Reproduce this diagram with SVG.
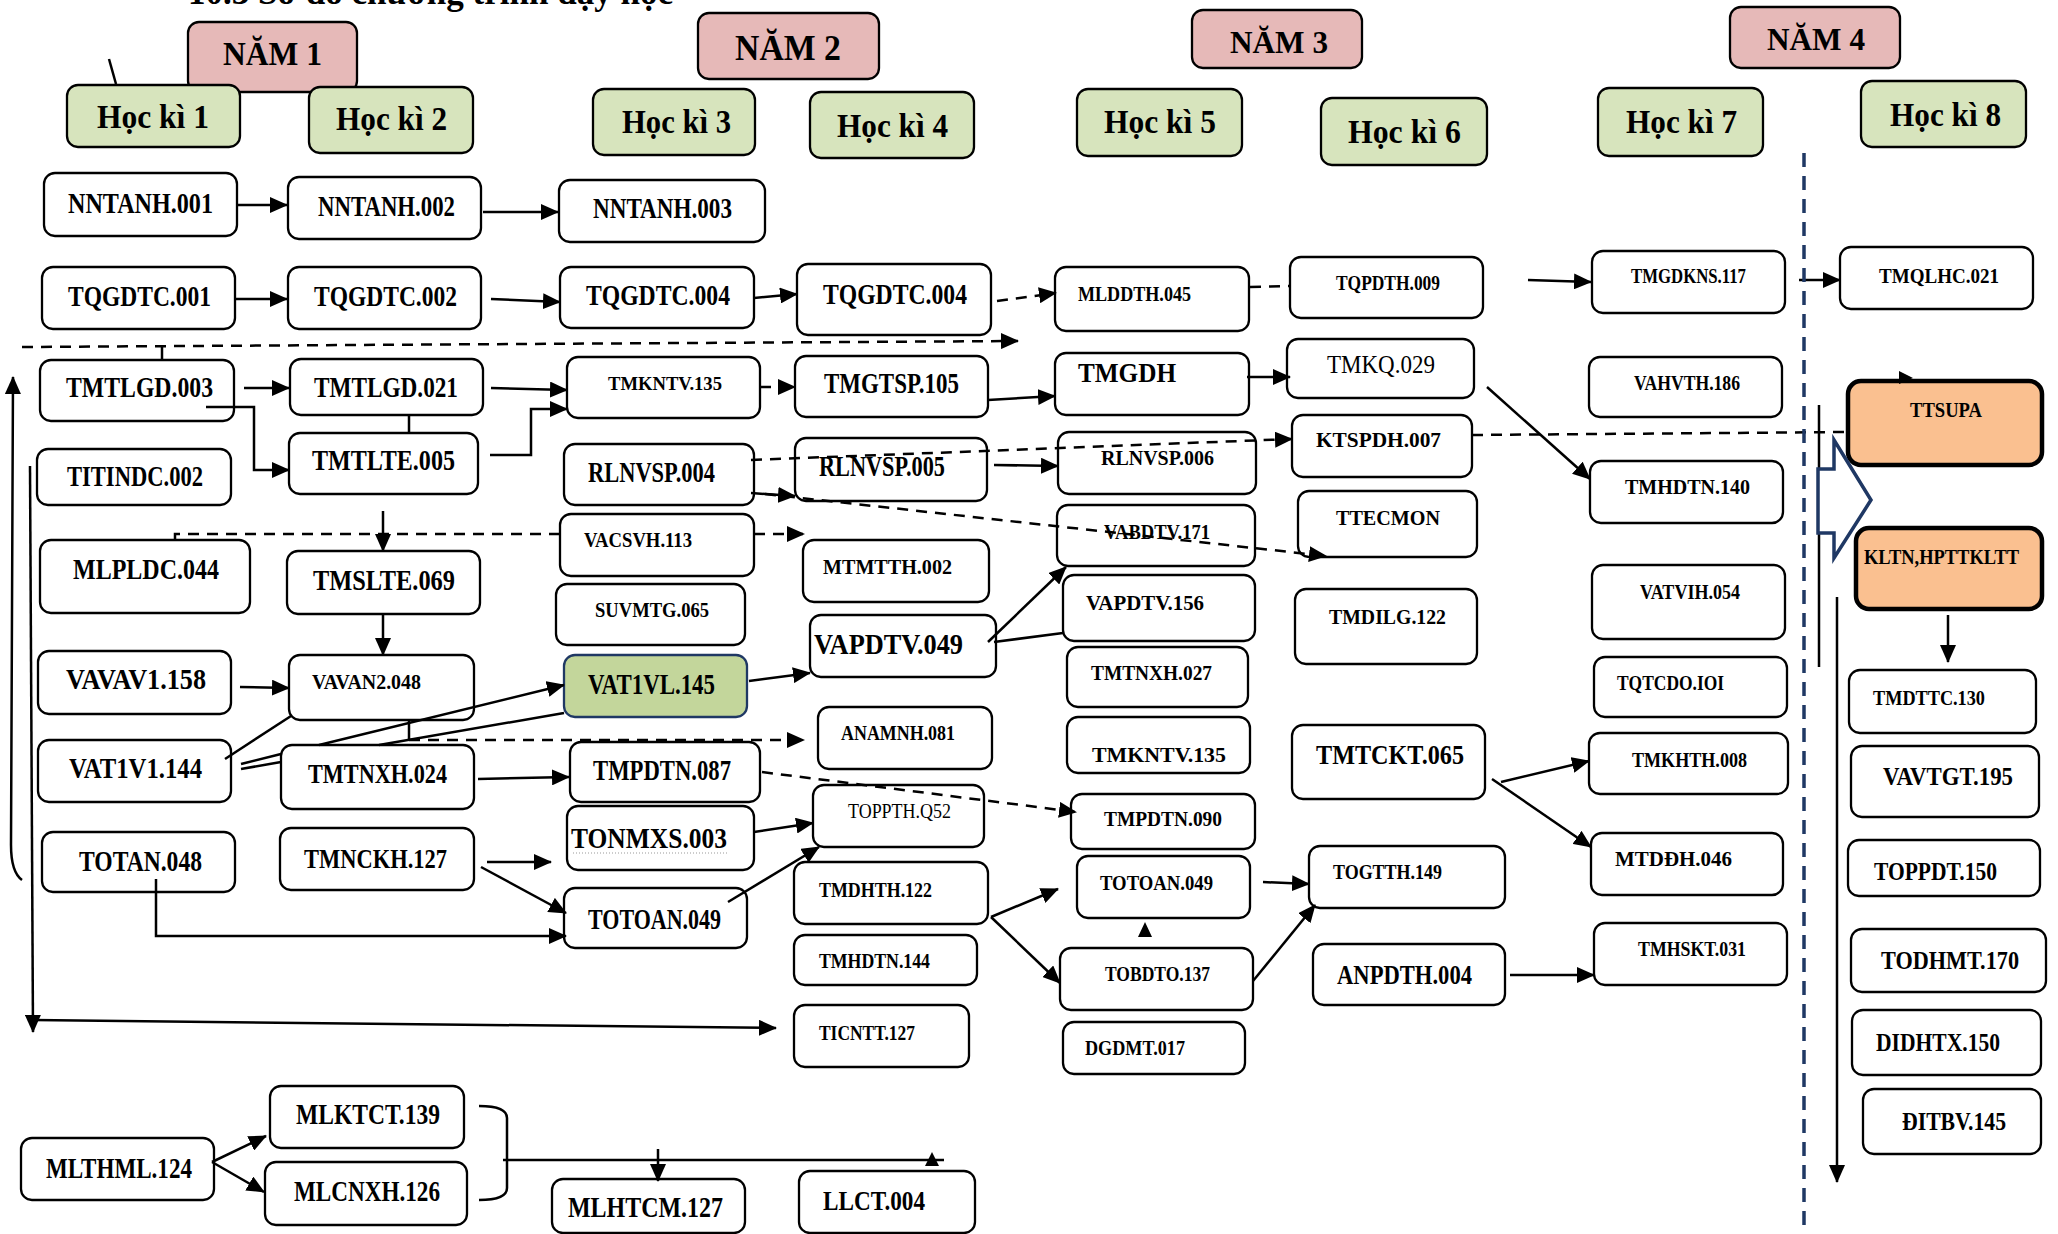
<svg xmlns="http://www.w3.org/2000/svg" width="2058" height="1234" viewBox="0 0 2058 1234">
<style>
.box{fill:#fff;stroke:#000;stroke-width:2.3}
.yr{fill:#e6b9b8;stroke:#000;stroke-width:2.3}
.hk{fill:#d7e4bd;stroke:#000;stroke-width:2.3}
.vg{fill:#c3d69b;stroke:#1f3864;stroke-width:2.3}
.or{fill:#fac090;stroke:#000;stroke-width:4.5}
text{font-family:"Liberation Serif","Times New Roman",serif;font-weight:bold;fill:#000}
.n{font-weight:normal}
.c{fill:none;stroke:#000;stroke-width:2.5}
.d{fill:none;stroke:#000;stroke-width:2.5;stroke-dasharray:11 8}
.a{marker-end:url(#ah)}
</style>
<defs>
<marker id="ah" markerUnits="userSpaceOnUse" markerWidth="18" markerHeight="16" refX="17" refY="8" orient="auto">
<path d="M0,0 L18,8 L0,16 z" fill="#000"/>
</marker>
</defs>
<rect width="2058" height="1234" fill="#fff"/>
<text x="188" y="4" font-size="35" textLength="485" lengthAdjust="spacingAndGlyphs">10.3  Sơ đồ chương trình dạy học</text>

<g id="headers">
<g id="nam1"><rect class="yr" x="188" y="22" width="169" height="70" rx="11"/><text x="223" y="65" font-size="34" textLength="99" lengthAdjust="spacingAndGlyphs">NĂM 1</text></g>
<g id="nam2"><rect class="yr" x="698" y="13" width="181" height="66" rx="11"/><text x="735" y="60" font-size="35" textLength="106" lengthAdjust="spacingAndGlyphs">NĂM 2</text></g>
<g id="nam3"><rect class="yr" x="1192" y="10" width="170" height="58" rx="11"/><text x="1230" y="53" font-size="32" textLength="98" lengthAdjust="spacingAndGlyphs">NĂM 3</text></g>
<g id="nam4"><rect class="yr" x="1730" y="7" width="170" height="61" rx="11"/><text x="1767" y="50" font-size="32" textLength="98" lengthAdjust="spacingAndGlyphs">NĂM 4</text></g>
<g id="hk1"><rect class="hk" x="67" y="85" width="173" height="62" rx="11"/><text x="97" y="128" font-size="34" textLength="112" lengthAdjust="spacingAndGlyphs">Học kì 1</text></g>
<g id="hk2"><rect class="hk" x="309" y="87" width="164" height="66" rx="11"/><text x="336" y="130" font-size="34" textLength="111" lengthAdjust="spacingAndGlyphs">Học kì 2</text></g>
<g id="hk3"><rect class="hk" x="593" y="89" width="162" height="66" rx="11"/><text x="622" y="133" font-size="34" textLength="109" lengthAdjust="spacingAndGlyphs">Học kì 3</text></g>
<g id="hk4"><rect class="hk" x="810" y="92" width="164" height="66" rx="11"/><text x="837" y="137" font-size="34" textLength="111" lengthAdjust="spacingAndGlyphs">Học kì 4</text></g>
<g id="hk5"><rect class="hk" x="1077" y="89" width="165" height="67" rx="11"/><text x="1104" y="133" font-size="34" textLength="112" lengthAdjust="spacingAndGlyphs">Học kì 5</text></g>
<g id="hk6"><rect class="hk" x="1321" y="98" width="166" height="67" rx="11"/><text x="1348" y="143" font-size="34" textLength="113" lengthAdjust="spacingAndGlyphs">Học kì 6</text></g>
<g id="hk7"><rect class="hk" x="1598" y="88" width="165" height="68" rx="11"/><text x="1626" y="133" font-size="34" textLength="111" lengthAdjust="spacingAndGlyphs">Học kì 7</text></g>
<g id="hk8"><rect class="hk" x="1861" y="81" width="165" height="66" rx="11"/><text x="1890" y="126" font-size="34" textLength="111" lengthAdjust="spacingAndGlyphs">Học kì 8</text></g>
</g>

<g id="nodes">
<g id="nntanh001"><rect class="box" x="44" y="173" width="193" height="63" rx="11"/><text x="68" y="213" font-size="29" textLength="145" lengthAdjust="spacingAndGlyphs">NNTANH.001</text></g>
<g id="tqgdtc001"><rect class="box" x="42" y="267" width="193" height="62" rx="11"/><text x="68" y="306" font-size="29" textLength="143" lengthAdjust="spacingAndGlyphs">TQGDTC.001</text></g>
<g id="tmtlgd003"><rect class="box" x="40" y="360" width="194" height="61" rx="11"/><text x="66" y="397" font-size="29" textLength="147" lengthAdjust="spacingAndGlyphs">TMTLGD.003</text></g>
<g id="titindc002"><rect class="box" x="37" y="449" width="194" height="56" rx="11"/><text x="67" y="486" font-size="29" textLength="136" lengthAdjust="spacingAndGlyphs">TITINDC.002</text></g>
<g id="mlpldc044"><rect class="box" x="40" y="540" width="210" height="73" rx="11"/><text x="73" y="579" font-size="29" textLength="146" lengthAdjust="spacingAndGlyphs">MLPLDC.044</text></g>
<g id="vavav1158"><rect class="box" x="38" y="651" width="193" height="63" rx="11"/><text x="66" y="689" font-size="29" textLength="140" lengthAdjust="spacingAndGlyphs">VAVAV1.158</text></g>
<g id="vat1v1144"><rect class="box" x="38" y="740" width="193" height="62" rx="11"/><text x="69" y="778" font-size="29" textLength="133" lengthAdjust="spacingAndGlyphs">VAT1V1.144</text></g>
<g id="totan048"><rect class="box" x="42" y="832" width="193" height="60" rx="11"/><text x="79" y="871" font-size="29" textLength="123" lengthAdjust="spacingAndGlyphs">TOTAN.048</text></g>
<g id="mlthml124"><rect class="box" x="21" y="1138" width="193" height="62" rx="11"/><text x="46" y="1178" font-size="29" textLength="146" lengthAdjust="spacingAndGlyphs">MLTHML.124</text></g>

<g id="nntanh002"><rect class="box" x="288" y="177" width="193" height="62" rx="11"/><text x="318" y="216" font-size="29" textLength="137" lengthAdjust="spacingAndGlyphs">NNTANH.002</text></g>
<g id="tqgdtc002"><rect class="box" x="288" y="267" width="193" height="62" rx="11"/><text x="314" y="306" font-size="29" textLength="143" lengthAdjust="spacingAndGlyphs">TQGDTC.002</text></g>
<g id="tmtlgd021"><rect class="box" x="290" y="359" width="193" height="56" rx="11"/><text x="314" y="397" font-size="29" textLength="144" lengthAdjust="spacingAndGlyphs">TMTLGD.021</text></g>
<g id="tmtlte005"><rect class="box" x="289" y="433" width="189" height="61" rx="11"/><text x="312" y="470" font-size="29" textLength="143" lengthAdjust="spacingAndGlyphs">TMTLTE.005</text></g>
<g id="tmslte069"><rect class="box" x="287" y="551" width="193" height="63" rx="11"/><text x="313" y="590" font-size="29" textLength="142" lengthAdjust="spacingAndGlyphs">TMSLTE.069</text></g>
<g id="vavan2048"><rect class="box" x="289" y="655" width="185" height="65" rx="11"/><text x="312" y="689" font-size="21" textLength="109" lengthAdjust="spacingAndGlyphs">VAVAN2.048</text></g>
<g id="tmtnxh024"><rect class="box" x="281" y="745" width="193" height="64" rx="11"/><text x="308" y="783" font-size="28" textLength="139" lengthAdjust="spacingAndGlyphs">TMTNXH.024</text></g>
<g id="tmnckh127"><rect class="box" x="280" y="828" width="194" height="62" rx="11"/><text x="304" y="868" font-size="28" textLength="143" lengthAdjust="spacingAndGlyphs">TMNCKH.127</text></g>
<g id="mlktct139"><rect class="box" x="270" y="1086" width="194" height="62" rx="11"/><text x="296" y="1124" font-size="29" textLength="144" lengthAdjust="spacingAndGlyphs">MLKTCT.139</text></g>
<g id="mlcnxh126"><rect class="box" x="265" y="1162" width="202" height="63" rx="11"/><text x="294" y="1201" font-size="29" textLength="146" lengthAdjust="spacingAndGlyphs">MLCNXH.126</text></g>

<g id="nntanh003"><rect class="box" x="559" y="180" width="206" height="62" rx="11"/><text x="593" y="218" font-size="29" textLength="139" lengthAdjust="spacingAndGlyphs">NNTANH.003</text></g>
<g id="tqgdtc004a"><rect class="box" x="560" y="267" width="194" height="61" rx="11"/><text x="586" y="305" font-size="29" textLength="144" lengthAdjust="spacingAndGlyphs">TQGDTC.004</text></g>
<g id="tmkntv135a"><rect class="box" x="567" y="357" width="193" height="61" rx="11"/><text x="608" y="390" font-size="19" textLength="114" lengthAdjust="spacingAndGlyphs">TMKNTV.135</text></g>
<g id="rlnvsp004"><rect class="box" x="564" y="444" width="190" height="61" rx="11"/><text x="588" y="482" font-size="29" textLength="127" lengthAdjust="spacingAndGlyphs">RLNVSP.004</text></g>
<g id="vacsvh113"><rect class="box" x="560" y="514" width="194" height="62" rx="11"/><text x="584" y="547" font-size="21" textLength="108" lengthAdjust="spacingAndGlyphs">VACSVH.113</text></g>
<g id="suvmtg065"><rect class="box" x="556" y="584" width="189" height="61" rx="11"/><text x="595" y="617" font-size="21" textLength="114" lengthAdjust="spacingAndGlyphs">SUVMTG.065</text></g>
<g id="vat1vl145"><rect class="vg" x="564" y="655" width="183" height="62" rx="11"/><text x="588" y="694" font-size="29" textLength="127" lengthAdjust="spacingAndGlyphs">VAT1VL.145</text></g>
<g id="tmpdtn087"><rect class="box" x="570" y="742" width="190" height="60" rx="11"/><text x="593" y="780" font-size="29" textLength="138" lengthAdjust="spacingAndGlyphs">TMPDTN.087</text></g>
<g id="tonmxs003"><rect class="box" x="567" y="806" width="187" height="64" rx="11"/><text x="571" y="848" font-size="29" textLength="156" lengthAdjust="spacingAndGlyphs">TONMXS.003</text><path d="M573,853 L729,853" stroke="#999" stroke-width="1" stroke-dasharray="1 2"/></g>
<g id="totoan049a"><rect class="box" x="564" y="888" width="183" height="60" rx="11"/><text x="588" y="929" font-size="29" textLength="133" lengthAdjust="spacingAndGlyphs">TOTOAN.049</text></g>
<g id="mlhtcm127"><rect class="box" x="552" y="1179" width="193" height="54" rx="11"/><text x="568" y="1217" font-size="29" textLength="155" lengthAdjust="spacingAndGlyphs">MLHTCM.127</text></g>

<g id="tqgdtc004b"><rect class="box" x="797" y="264" width="194" height="71" rx="11"/><text x="823" y="304" font-size="29" textLength="144" lengthAdjust="spacingAndGlyphs">TQGDTC.004</text></g>
<g id="tmgtsp105"><rect class="box" x="795" y="356" width="193" height="61" rx="11"/><text x="824" y="393" font-size="29" textLength="135" lengthAdjust="spacingAndGlyphs">TMGTSP.105</text></g>
<g id="rlnvsp005"><rect class="box" x="795" y="438" width="192" height="63" rx="11"/><text x="819" y="476" font-size="29" textLength="126" lengthAdjust="spacingAndGlyphs">RLNVSP.005</text></g>
<g id="mtmtth002"><rect class="box" x="803" y="540" width="186" height="62" rx="11"/><text x="823" y="574" font-size="21" textLength="129" lengthAdjust="spacingAndGlyphs">MTMTTH.002</text></g>
<g id="vapdtv049"><rect class="box" x="810" y="615" width="186" height="62" rx="11"/><text x="814" y="654" font-size="29" textLength="149" lengthAdjust="spacingAndGlyphs">VAPDTV.049</text></g>
<g id="anamnh081"><rect class="box" x="818" y="707" width="174" height="62" rx="11"/><text x="841" y="740" font-size="20" textLength="114" lengthAdjust="spacingAndGlyphs">ANAMNH.081</text></g>
<g id="toppthq52"><rect class="box" x="813" y="785" width="171" height="62" rx="11"/><text class="n" x="848" y="818" font-size="20" textLength="103" lengthAdjust="spacingAndGlyphs">TOPPTH.Q52</text></g>
<g id="tmdhth122"><rect class="box" x="794" y="862" width="194" height="62" rx="11"/><text x="819" y="897" font-size="21" textLength="113" lengthAdjust="spacingAndGlyphs">TMDHTH.122</text></g>
<g id="tmhdtn144"><rect class="box" x="794" y="935" width="183" height="50" rx="11"/><text x="819" y="968" font-size="21" textLength="111" lengthAdjust="spacingAndGlyphs">TMHDTN.144</text></g>
<g id="ticntt127"><rect class="box" x="794" y="1005" width="175" height="62" rx="11"/><text x="819" y="1040" font-size="21" textLength="96" lengthAdjust="spacingAndGlyphs">TICNTT.127</text></g>
<g id="llct004"><rect class="box" x="799" y="1171" width="176" height="62" rx="11"/><text x="823" y="1210" font-size="28" textLength="102" lengthAdjust="spacingAndGlyphs">LLCT.004</text></g>

<g id="mlddth045"><rect class="box" x="1055" y="267" width="194" height="64" rx="11"/><text x="1078" y="301" font-size="22" textLength="113" lengthAdjust="spacingAndGlyphs">MLDDTH.045</text></g>
<g id="tmgdh"><rect class="box" x="1055" y="353" width="194" height="62" rx="11"/><text x="1078" y="382" font-size="28" textLength="98" lengthAdjust="spacingAndGlyphs">TMGDH</text></g>
<g id="rlnvsp006"><rect class="box" x="1058" y="432" width="198" height="62" rx="11"/><text x="1101" y="465" font-size="22" textLength="113" lengthAdjust="spacingAndGlyphs">RLNVSP.006</text></g>
<g id="vabdtv171"><rect class="box" x="1057" y="505" width="198" height="61" rx="11"/><text x="1104" y="539" font-size="21" textLength="106" lengthAdjust="spacingAndGlyphs">VABDTV.171</text></g>
<g id="vapdtv156"><rect class="box" x="1063" y="575" width="192" height="66" rx="11"/><text x="1086" y="610" font-size="22" textLength="118" lengthAdjust="spacingAndGlyphs">VAPDTV.156</text></g>
<g id="tmtnxh027"><rect class="box" x="1067" y="647" width="181" height="60" rx="11"/><text x="1091" y="680" font-size="21" textLength="121" lengthAdjust="spacingAndGlyphs">TMTNXH.027</text></g>
<g id="tmkntv135b"><rect class="box" x="1067" y="717" width="183" height="56" rx="11"/><text x="1092" y="762" font-size="22" textLength="134" lengthAdjust="spacingAndGlyphs">TMKNTV.135</text></g>
<g id="tmpdtn090"><rect class="box" x="1071" y="794" width="184" height="55" rx="11"/><text x="1104" y="826" font-size="21" textLength="118" lengthAdjust="spacingAndGlyphs">TMPDTN.090</text></g>
<g id="totoan049b"><rect class="box" x="1077" y="856" width="173" height="62" rx="11"/><text x="1100" y="890" font-size="21" textLength="113" lengthAdjust="spacingAndGlyphs">TOTOAN.049</text></g>
<g id="tobdto137"><rect class="box" x="1060" y="948" width="193" height="62" rx="11"/><text x="1105" y="981" font-size="21" textLength="105" lengthAdjust="spacingAndGlyphs">TOBDTO.137</text></g>
<g id="dgdmt017"><rect class="box" x="1063" y="1022" width="182" height="52" rx="11"/><text x="1085" y="1055" font-size="21" textLength="100" lengthAdjust="spacingAndGlyphs">DGDMT.017</text></g>

<g id="tqpdth009"><rect class="box" x="1290" y="257" width="193" height="61" rx="11"/><text x="1336" y="290" font-size="20" textLength="104" lengthAdjust="spacingAndGlyphs">TQPDTH.009</text></g>
<g id="tmkq029"><rect class="box" x="1287" y="339" width="187" height="59" rx="11"/><text class="n" x="1327" y="373" font-size="25" textLength="108" lengthAdjust="spacingAndGlyphs">TMKQ.029</text></g>
<g id="ktspdh007"><rect class="box" x="1292" y="415" width="180" height="62" rx="11"/><text x="1316" y="447" font-size="21" textLength="125" lengthAdjust="spacingAndGlyphs">KTSPDH.007</text></g>
<g id="ttecmon"><rect class="box" x="1298" y="491" width="179" height="66" rx="11"/><text x="1336" y="525" font-size="20" textLength="104" lengthAdjust="spacingAndGlyphs">TTECMON</text></g>
<g id="tmdilg122"><rect class="box" x="1295" y="589" width="182" height="75" rx="11"/><text x="1329" y="624" font-size="21" textLength="117" lengthAdjust="spacingAndGlyphs">TMDILG.122</text></g>
<g id="tmtckt065"><rect class="box" x="1292" y="725" width="193" height="74" rx="11"/><text x="1316" y="764" font-size="28" textLength="148" lengthAdjust="spacingAndGlyphs">TMTCKT.065</text></g>
<g id="togtth149"><rect class="box" x="1309" y="846" width="196" height="62" rx="11"/><text x="1333" y="879" font-size="20" textLength="109" lengthAdjust="spacingAndGlyphs">TOGTTH.149</text></g>
<g id="anpdth004"><rect class="box" x="1313" y="944" width="192" height="61" rx="11"/><text x="1337" y="984" font-size="27" textLength="135" lengthAdjust="spacingAndGlyphs">ANPDTH.004</text></g>

<g id="tmgdkns117"><rect class="box" x="1592" y="251" width="193" height="62" rx="11"/><text x="1631" y="283" font-size="21" textLength="115" lengthAdjust="spacingAndGlyphs">TMGDKNS.117</text></g>
<g id="vahvth186"><rect class="box" x="1589" y="357" width="193" height="60" rx="11"/><text x="1634" y="390" font-size="21" textLength="106" lengthAdjust="spacingAndGlyphs">VAHVTH.186</text></g>
<g id="tmhdtn140"><rect class="box" x="1590" y="461" width="193" height="62" rx="11"/><text x="1625" y="494" font-size="21" textLength="125" lengthAdjust="spacingAndGlyphs">TMHDTN.140</text></g>
<g id="vatvih054"><rect class="box" x="1592" y="565" width="193" height="74" rx="11"/><text x="1640" y="599" font-size="21" textLength="100" lengthAdjust="spacingAndGlyphs">VATVIH.054</text></g>
<g id="tqtcdoioi"><rect class="box" x="1594" y="657" width="193" height="60" rx="11"/><text x="1617" y="690" font-size="21" textLength="107" lengthAdjust="spacingAndGlyphs">TQTCDO.IOI</text></g>
<g id="tmkhth008"><rect class="box" x="1589" y="733" width="199" height="61" rx="11"/><text x="1632" y="767" font-size="21" textLength="115" lengthAdjust="spacingAndGlyphs">TMKHTH.008</text></g>
<g id="mtddh046"><rect class="box" x="1591" y="833" width="192" height="62" rx="11"/><text x="1615" y="866" font-size="21" textLength="117" lengthAdjust="spacingAndGlyphs">MTDĐH.046</text></g>
<g id="tmhskt031"><rect class="box" x="1594" y="923" width="193" height="62" rx="11"/><text x="1638" y="956" font-size="21" textLength="108" lengthAdjust="spacingAndGlyphs">TMHSKT.031</text></g>

<g id="tmqlhc021"><rect class="box" x="1840" y="247" width="193" height="62" rx="11"/><text x="1879" y="283" font-size="22" textLength="120" lengthAdjust="spacingAndGlyphs">TMQLHC.021</text></g>
<g id="ttsupa"><rect class="or" x="1848" y="381" width="194" height="84" rx="13"/><text x="1910" y="417" font-size="20" textLength="72" lengthAdjust="spacingAndGlyphs">TTSUPA</text></g>
<g id="kltn"><rect class="or" x="1856" y="528" width="186" height="81" rx="13"/><text x="1864" y="564" font-size="22" textLength="155" lengthAdjust="spacingAndGlyphs">KLTN,HPTTKLTT</text></g>
<g id="tmdttc130"><rect class="box" x="1849" y="670" width="187" height="63" rx="11"/><text x="1873" y="705" font-size="21" textLength="112" lengthAdjust="spacingAndGlyphs">TMDTTC.130</text></g>
<g id="vavtgt195"><rect class="box" x="1851" y="746" width="188" height="71" rx="11"/><text x="1883" y="785" font-size="26" textLength="130" lengthAdjust="spacingAndGlyphs">VAVTGT.195</text></g>
<g id="toppdt150"><rect class="box" x="1848" y="840" width="192" height="56" rx="11"/><text x="1874" y="880" font-size="26" textLength="123" lengthAdjust="spacingAndGlyphs">TOPPDT.150</text></g>
<g id="todhmt170"><rect class="box" x="1851" y="929" width="195" height="63" rx="11"/><text x="1881" y="969" font-size="26" textLength="138" lengthAdjust="spacingAndGlyphs">TODHMT.170</text></g>
<g id="didhtx150"><rect class="box" x="1852" y="1010" width="189" height="65" rx="11"/><text x="1876" y="1051" font-size="26" textLength="124" lengthAdjust="spacingAndGlyphs">DIDHTX.150</text></g>
<g id="ditbv145"><rect class="box" x="1863" y="1089" width="178" height="65" rx="11"/><text x="1902" y="1130" font-size="26" textLength="104" lengthAdjust="spacingAndGlyphs">ĐITBV.145</text></g>
</g>

<g id="connectors">
<path class="c" d="M109,59 L116,84"/>
<path class="c a" d="M238,205 L287,205"/>
<path class="c a" d="M483,212 L558,212"/>
<path class="c a" d="M236,299 L287,299"/>
<path class="c a" d="M491,299 L560,302"/>
<path class="c a" d="M754,298 L797,294"/>
<path class="d a" d="M997,301 L1056,293"/>
<path class="d" d="M1250,287 L1290,286"/>
<path class="c a" d="M1528,280 L1591,282"/>
<path class="c a" d="M1799,280 L1840,280"/>
<path class="d a" d="M22,347 L1018,341"/>
<path class="c" d="M162,347 L162,360"/>
<path class="c a" d="M244,388 L289,388"/>
<path class="c a" d="M491,388 L567,390"/>
<path class="c a" d="M206,407 L254,407 L254,470 L289,470"/>
<path class="c a" d="M490,455 L531,455 L531,409 L567,409"/>
<path class="c" d="M409,415 L409,433"/>
<path class="c a" d="M383,511 L383,551"/>
<path class="c a" d="M383,614 L383,655"/>
<path class="d" d="M175,540 L175,534 L560,534"/>
<path class="d a" d="M754,534 L804,534"/>
<path class="c a" d="M240,687 L289,688"/>
<path class="c" d="M225,759 L291,716"/>
<path class="c" d="M241,764 L281,754"/>
<path class="c a" d="M319,745 L564,685"/>
<path class="c" d="M241,769 L281,762"/>
<path class="c" d="M379,745 L564,713"/>
<path class="c" d="M409,720 L409,740"/>
<path class="d a" d="M409,740 L804,740"/>
<path class="c a" d="M478,779 L569,777"/>
<path class="d a" d="M762,772 L1076,812"/>
<path class="c a" d="M754,832 L813,823"/>
<path class="c a" d="M728,902 L819,847"/>
<path class="c a" d="M487,862 L551,862"/>
<path class="c a" d="M481,867 L566,913"/>
<path class="c a" d="M156,879 L156,936 L566,936"/>
<path class="c a" d="M30,466 L33,1032"/>
<path class="c a" d="M33,1020 L776,1028"/>
<path class="c a" d="M22,880 Q11,872 11,845 L13,377"/>
<path class="c a" d="M751,493 L795,496"/>
<path class="c a" d="M994,465 L1058,466"/>
<path class="d a" d="M751,460 L1292,439"/>
<path class="d a" d="M765,494 L1326,556"/>
<path class="c a" d="M749,681 L810,673"/>
<path class="c a" d="M988,642 L1066,567"/>
<path class="c" d="M994,642 L1063,633"/>
<path class="c a" d="M988,400 L1055,396"/>
<path class="c a" d="M1247,377 L1290,377"/>
<path class="c a" d="M1487,387 L1590,479"/>
<path class="d a" d="M760,387 L795,387"/>
<path class="c a" d="M991,917 L1058,889"/>
<path class="c a" d="M991,917 L1060,983"/>
<path class="c a" d="M1263,882 L1309,884"/>
<path class="c a" d="M1253,981 L1315,905"/>
<path class="c a" d="M1510,975 L1594,975"/>
<path class="c a" d="M1501,782 L1589,761"/>
<path class="c a" d="M1492,779 L1591,847"/>
<polygon points="1138,937 1152,937 1145,922" fill="#000"/>
<path class="c a" d="M212,1162 L266,1136"/>
<path class="c a" d="M212,1162 L264,1192"/>
<path class="c" d="M479,1106 Q507,1106 507,1118 L507,1188 Q507,1200 479,1200"/>
<path class="c" d="M503,1160 L944,1160"/>
<polygon points="925,1166 939,1166 932,1152" fill="#000"/>
<path class="c a" d="M658,1149 L658,1181"/>
<path class="d" d="M1472,435 L1848,432"/>
<path class="c" d="M1819,405 L1819,667"/>
<path class="c a" d="M1837,597 L1837,1182"/>
<path class="c a" d="M1948,615 L1948,662"/>
<polygon points="1899,371 1913,378 1899,384" fill="#000"/>
<path d="M1804,153 L1804,1234" fill="none" stroke="#1f3864" stroke-width="3.5" stroke-dasharray="14 9"/>
<polygon points="1818,469 1834,469 1834,440 1871,500 1834,558 1834,533 1818,533" fill="#fff" stroke="#1f3864" stroke-width="3.5"/>
</g>
</svg>
